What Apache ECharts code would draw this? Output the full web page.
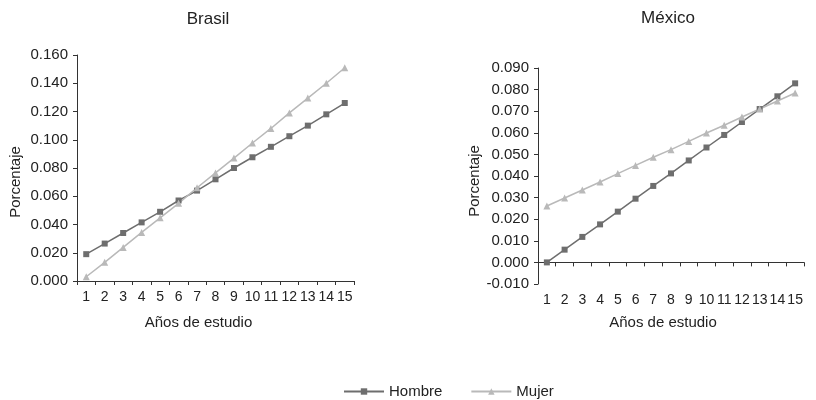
<!DOCTYPE html>
<html>
<head>
<meta charset="utf-8">
<script src="https://cdn.jsdelivr.net/npm/echarts@6/dist/echarts.min.js"></script>
<style>html,body{margin:0;padding:0;background:#fff}#c{width:816px;height:400px}</style>
</head>
<body>
<div id="c"></div>
<script>
var years = ['1','2','3','4','5','6','7','8','9','10','11','12','13','14','15'];
var brasilHombre = [0.019,0.0265,0.034,0.0415,0.049,0.057,0.064,0.072,0.080,0.0876,0.095,0.1025,0.110,0.118,0.126];
var brasilMujer = [0.003,0.0132,0.0238,0.0344,0.0447,0.055,0.066,0.0765,0.087,0.0977,0.108,0.119,0.1295,0.140,0.151];
var mexicoHombre = [0.000,0.0059,0.0118,0.0176,0.0235,0.0295,0.0354,0.0412,0.0472,0.0532,0.059,0.065,0.071,0.0769,0.0829];
var mexicoMujer = [0.0261,0.0298,0.0335,0.0372,0.0411,0.0449,0.0487,0.0522,0.056,0.0599,0.0635,0.0673,0.071,0.0747,0.0784];
var titles = ['Brasil','México'];
var seriesNames = ['Hombre','Mujer'];

var FONT = "'Liberation Sans Narrow','Liberation Sans',Arial,sans-serif";
var TXT = '#222';
var C_H = '#6e6e6e', C_M = '#b9b9b9';

function xAx(idx, gap, pad){
  return {
    type:'category', gridIndex:idx, data:years, boundaryGap:true,
    axisLine:{lineStyle:{color:'#333',width:1}},
    axisTick:{show:true, length:4, lineStyle:{color:'#333'}},
    axisLabel:{interval:0, fontFamily:FONT, fontSize:14, color:TXT, margin:9},
    name:'Años de estudio', nameLocation:'middle', nameGap:gap,
    nameTextStyle:{fontFamily:FONT, fontSize:15, color:TXT, padding:pad}
  };
}
function yAx(idx, min, max, interval, gap, pad){
  return {
    type:'value', gridIndex:idx, min:min, max:max, interval:interval,
    axisLine:{show:true, lineStyle:{color:'#333',width:1}},
    axisTick:{show:true, length:4, lineStyle:{color:'#333'}},
    splitLine:{show:false},
    axisLabel:{fontFamily:FONT, fontSize:15, color:TXT, margin:9,
      formatter:function(v){return (Math.abs(v)<1e-9?0:v).toFixed(3);}},
    name:'Porcentaje', nameLocation:'middle', nameGap:gap,
    nameTextStyle:{fontFamily:FONT, fontSize:15, color:TXT, padding:pad}
  };
}
function ser(name, xi, data, color, sym){
  return {
    name:name, type:'line', xAxisIndex:xi, yAxisIndex:xi, data:data,
    symbol:sym, symbolSize:sym==='rect'?6:7, color:color,
    lineStyle:{color:color, width:1.5}, itemStyle:{color:color},
    animation:false
  };
}

var chart = echarts.init(document.getElementById('c'), null, {renderer:'canvas'});
chart.setOption({
  backgroundColor:'#fff',
  animation:false,
  title:[
    {text:titles[0], left:203, top:6, textAlign:'center', textStyle:{fontFamily:FONT, fontSize:17, fontWeight:'normal', color:TXT}},
    {text:titles[1], left:663, top:5, textAlign:'center', textStyle:{fontFamily:FONT, fontSize:17, fontWeight:'normal', color:TXT}}
  ],
  legend:{
    data:seriesNames, left:338, top:379, itemWidth:40, itemHeight:8, itemGap:28,
    textStyle:{fontFamily:FONT, fontSize:15, color:TXT}
  },
  grid:[
    {left:77, right:462, top:55, bottom:119},
    {left:538, right:12, top:68, bottom:116}
  ],
  xAxis:[xAx(0, 34, [0,34,0,0]), xAx(1, 31, [0,16,0,0])],
  yAxis:[yAx(0, 0, 0.16, 0.02, 54, [0,28,0,0]), yAx(1, -0.01, 0.09, 0.01, 43, [0,10,0,0])],
  series:[
    ser(seriesNames[0], 0, brasilHombre, C_H, 'rect'),
    ser(seriesNames[1], 0, brasilMujer, C_M, 'triangle'),
    ser(seriesNames[0], 1, mexicoHombre, C_H, 'rect'),
    ser(seriesNames[1], 1, mexicoMujer, C_M, 'triangle')
  ]
});
</script>
</body>
</html>
